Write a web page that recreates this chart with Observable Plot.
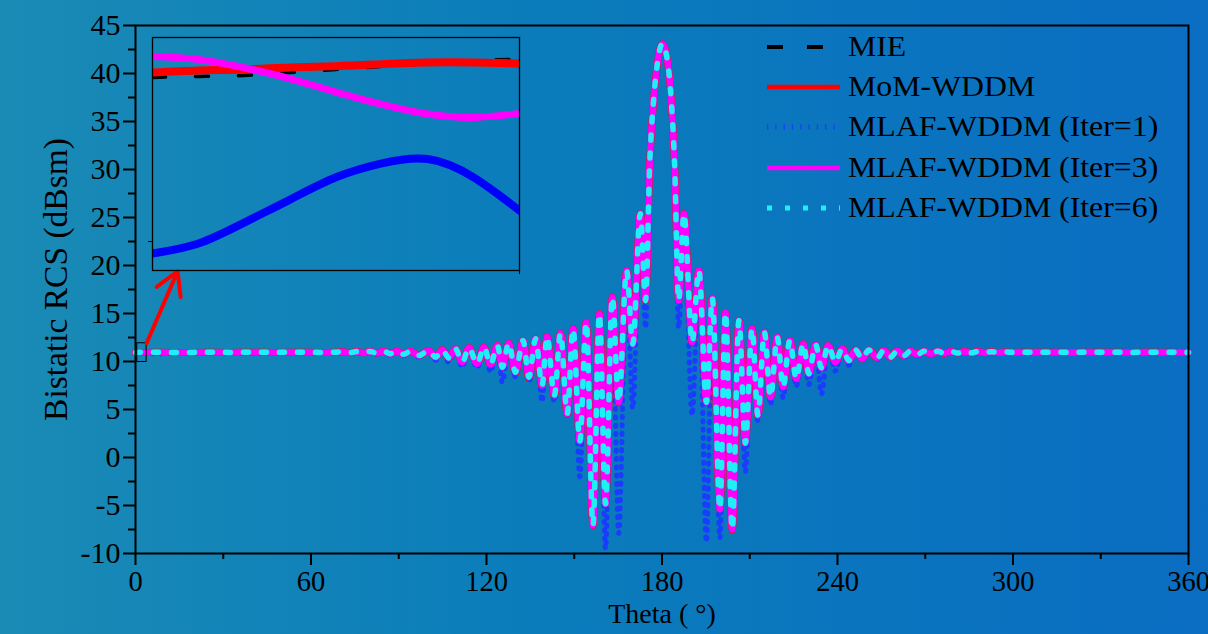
<!DOCTYPE html>
<html>
<head>
<meta charset="utf-8">
<script src="https://cdn.jsdelivr.net/npm/d3@7"></script>
<script src="https://cdn.jsdelivr.net/npm/@observablehq/plot@0.6"></script>
<style>
  html, body { margin: 0; padding: 0; }
  body {
    width: 1208px; height: 634px; overflow: hidden; position: relative;
    background: linear-gradient(to right, #1a8bb5 0%, #0a7cbb 45%, #0a6dc2 100%);
    font-family: "Liberation Serif", "Times New Roman", serif;
  }
  #main { position: absolute; left: 0; top: 0; }
  #inset { position: absolute; left: 146px; top: 31px; }
  #legend { position: absolute; left: 767px; top: 0; }
  .lrow { position: absolute; left: 0; height: 40px; white-space: nowrap; }
  .lrow svg { position: absolute; left: 0; top: 14px; }
  .lrow span { position: absolute; left: 81px; top: 1px; font-size: 30px; color: #000; line-height: 36px;
               transform: scaleX(1.06); transform-origin: 0 50%; }
</style>
</head>
<body>
<div id="main"></div>
<div id="inset"></div>
<div id="legend"></div>
<script>
// ---------------- data ----------------
const seriesNames = ["MIE", "MoM-WDDM", "MLAF-WDDM (Iter=1)", "MLAF-WDDM (Iter=3)", "MLAF-WDDM (Iter=6)"];

const theta = [
  0, 8, 16, 24, 32, 40, 48, 56, 63, 68,
  71, 73.3, 75.6, 77.9, 80.2, 82.5, 84.8, 87.1, 89.4, 91.7,
  94.0, 96.9, 100.3, 102.6, 104.9, 107.1, 109.4, 111.7, 114.0, 116.8,
  119.1, 121.4, 123.7, 125.4, 127.6, 129.9, 132.5, 134.5, 136.8, 139.0,
  140.7, 143.2, 145.3, 147.6, 149.6, 151.9, 154.1, 156.4, 158.6, 160.7,
  163.0, 165.2, 167.9, 170.0, 172.6, 174.4, 175.8, 177.2, 178.4, 180.1,
  182.0, 183.1, 184.3, 185.7, 187.5, 190.3, 192.6, 195.2, 197.2, 199.8,
  201.7, 204.0, 206.3, 208.5, 210.8, 212.8, 215.0, 217.1, 219.4, 221.4,
  223.7, 225.9, 228.3, 230.2, 232.5, 234.5, 236.8, 239.3, 241.6, 243.9,
  246.2, 248.4, 250.7, 253.6, 255.8, 258.1, 260.4, 262.7, 265.0, 267.3,
  269.6, 271.9, 274.2, 276.5, 278.8, 281.1, 283.4, 285.7, 288.0, 290.3,
  292.6, 295.0, 297.3, 300, 310, 320, 330, 340, 350, 360
];

const mie = [
  10.95, 10.96, 10.94, 10.96, 10.95, 10.97, 10.95, 10.96, 10.95, 10.97,
  11.08, 10.94, 11.09, 10.92, 11.11, 10.88, 11.12, 10.84, 11.14, 10.77,
  11.12, 10.63, 11.18, 10.45, 11.25, 10.38, 11.34, 9.93, 11.44, 9.76,
  11.49, 9.69, 11.67, 9.41, 11.91, 8.80, 12.19, 8.30, 12.36, 7.45,
  12.60, 6.40, 12.95, 4.50, 13.41, 1.60, 14.09, -7.10, 14.97, -4.85,
  16.70, 5.70, 19.48, 11.80, 25.40, 16.30, 30.6, 37.5, 41.0, 43.1,
  41.0, 37.5, 30.6, 16.30, 25.40, 11.95, 19.48, 5.70, 16.60, -5.45,
  15.10, -7.55, 14.27, 1.45, 13.40, 4.35, 13.05, 6.25, 12.53, 7.30,
  12.19, 8.18, 11.86, 8.70, 11.79, 9.32, 11.70, 9.92, 11.36, 10.10,
  11.25, 10.27, 11.26, 10.38, 11.22, 10.45, 11.16, 10.60, 11.15, 10.72,
  11.12, 10.80, 11.09, 10.85, 11.07, 10.88, 11.05, 10.90, 11.04, 10.92,
  11.02, 10.93, 11.00, 10.95, 10.96, 10.95, 10.97, 10.95, 10.96, 10.95
];

const mom = [
  10.95, 10.96, 10.94, 10.96, 10.95, 10.97, 10.95, 10.96, 10.95, 10.97,
  11.02, 10.92, 11.03, 10.90, 11.05, 10.87, 11.06, 10.82, 11.08, 10.75,
  11.07, 10.63, 11.15, 10.45, 11.22, 10.38, 11.32, 9.93, 11.42, 9.76,
  11.49, 9.69, 11.67, 9.41, 11.91, 8.75, 12.19, 8.25, 12.36, 7.45,
  12.60, 6.35, 12.95, 4.50, 13.41, 1.55, 14.09, -7.10, 14.97, -4.85,
  16.70, 5.70, 19.48, 11.80, 25.40, 16.30, 30.6, 37.5, 41.0, 43.1,
  41.0, 37.5, 30.6, 16.30, 25.40, 11.95, 19.48, 5.70, 16.60, -5.45,
  15.10, -7.55, 14.27, 1.40, 13.40, 4.35, 13.05, 6.25, 12.53, 7.30,
  12.19, 8.18, 11.84, 8.70, 11.77, 9.32, 11.67, 9.92, 11.32, 10.10,
  11.20, 10.27, 11.20, 10.38, 11.15, 10.45, 11.10, 10.60, 11.10, 10.72,
  11.08, 10.80, 11.06, 10.85, 11.05, 10.88, 11.04, 10.90, 11.03, 10.92,
  11.02, 10.93, 11.00, 10.95, 10.96, 10.95, 10.97, 10.95, 10.96, 10.95
];

const iter1 = [
  10.95, 10.80, 10.90, 10.82, 10.95, 10.88, 10.93, 10.90, 10.95, 10.92,
  11.00, 10.85, 11.02, 10.80, 11.03, 10.75, 11.04, 10.70, 11.06, 10.60,
  11.05, 10.45, 11.12, 10.15, 11.20, 9.90, 11.30, 9.40, 11.40, 9.30,
  11.47, 8.90, 11.65, 7.80, 11.89, 8.40, 12.17, 7.90, 12.34, 5.80,
  12.58, 5.80, 12.93, 4.30, 13.39, -2.00, 14.07, -7.20, 14.95, -9.50,
  16.68, -7.90, 19.46, 5.10, 25.38, 13.50, 30.6, 37.5, 41.0, 43.1,
  41.0, 37.5, 30.6, 13.50, 25.38, 4.40, 19.46, -8.80, 16.58, -8.40,
  15.08, -7.60, 14.25, -1.50, 13.38, 3.80, 13.03, 5.50, 12.51, 6.20,
  12.17, 7.40, 11.82, 7.60, 11.75, 6.60, 11.65, 9.00, 11.30, 9.60,
  11.18, 10.00, 11.18, 10.20, 11.13, 10.30, 11.08, 10.45, 11.08, 10.60,
  11.06, 10.70, 11.04, 10.78, 11.03, 10.82, 11.02, 10.86, 11.01, 10.88,
  11.00, 10.90, 10.99, 10.92, 10.94, 10.90, 10.95, 10.92, 10.94, 10.95
];

const iter3 = [
  10.95, 10.96, 10.94, 10.96, 10.95, 10.97, 10.95, 10.96, 10.95, 10.97,
  11.02, 10.92, 11.03, 10.90, 11.05, 10.87, 11.06, 10.82, 11.08, 10.75,
  11.07, 10.63, 11.15, 10.45, 11.22, 10.38, 11.32, 9.93, 11.42, 9.76,
  11.49, 9.69, 11.67, 9.41, 11.91, 8.89, 12.19, 8.37, 12.36, 7.50,
  12.60, 6.46, 12.95, 4.55, 13.41, 1.70, 14.09, -7.08, 14.97, -4.82,
  16.70, 5.76, 19.48, 11.84, 25.40, 16.35, 30.6, 37.5, 41.0, 43.1,
  41.0, 37.5, 30.6, 16.35, 25.40, 12.00, 19.48, 5.76, 16.60, -5.40,
  15.10, -7.50, 14.27, 1.50, 13.40, 4.40, 13.05, 6.28, 12.53, 7.33,
  12.19, 8.20, 11.84, 8.72, 11.77, 9.34, 11.67, 9.93, 11.32, 10.10,
  11.20, 10.27, 11.20, 10.38, 11.15, 10.45, 11.10, 10.60, 11.10, 10.72,
  11.08, 10.80, 11.06, 10.85, 11.05, 10.88, 11.04, 10.90, 11.03, 10.92,
  11.02, 10.93, 11.00, 10.95, 10.96, 10.95, 10.97, 10.95, 10.96, 10.95
];

const iter6 = [
  10.95, 10.96, 10.94, 10.96, 10.95, 10.97, 10.95, 10.96, 10.95, 10.97,
  11.02, 10.92, 11.03, 10.90, 11.05, 10.87, 11.06, 10.82, 11.08, 10.75,
  11.07, 10.63, 11.15, 10.45, 11.22, 10.38, 11.32, 9.93, 11.42, 9.76,
  11.49, 9.69, 11.67, 9.41, 11.91, 8.89, 12.19, 8.37, 12.36, 7.50,
  12.60, 6.46, 12.95, 4.55, 13.41, 1.70, 14.09, -7.08, 14.97, -4.82,
  16.70, 5.76, 19.48, 11.84, 25.40, 16.35, 30.6, 37.5, 41.0, 43.1,
  41.0, 37.5, 30.6, 16.35, 25.40, 12.00, 19.48, 5.76, 16.60, -5.40,
  15.10, -7.50, 14.27, 1.50, 13.40, 4.40, 13.05, 6.28, 12.53, 7.33,
  12.19, 8.20, 11.84, 8.72, 11.77, 9.34, 11.67, 9.93, 11.32, 10.10,
  11.20, 10.27, 11.20, 10.38, 11.15, 10.45, 11.10, 10.60, 11.10, 10.72,
  11.08, 10.80, 11.06, 10.85, 11.05, 10.88, 11.04, 10.90, 11.03, 10.92,
  11.02, 10.93, 11.00, 10.95, 10.96, 10.95, 10.97, 10.95, 10.96, 10.95
];

// inset (zoom of the region near theta = 0)
const insetTheta = [0, 0.25, 0.5, 0.75, 1.0, 1.25, 1.5, 1.75, 2.0];
const insetMie   = [11.180, 11.183, 11.186, 11.195, 11.204, 11.213, 11.222, 11.231, 11.234];
const insetMom   = [11.195, 11.201, 11.204, 11.210, 11.214, 11.220, 11.225, 11.225, 11.222];
const insetIter1 = [10.651, 10.681, 10.744, 10.813, 10.880, 10.922, 10.935, 10.880, 10.780];
const insetIter3 = [11.243, 11.234, 11.209, 11.176, 11.136, 11.099, 11.070, 11.060, 11.072];

// annotations: zoom box and arrow (data coordinates)
const zoomBox = [{x1: 0.6, x2: 3.8, y1: 9.95, y2: 11.9}];
const zoomArrow = [{x1: 3.8, y1: 11.9, x2: 14.4, y2: 19.4}];

// axis ticks
const xTicks = [0, 60, 120, 180, 240, 300, 360];
const xMinor = [30, 90, 150, 210, 270, 330];
const yTicks = [-10, -5, 0, 5, 10, 15, 20, 25, 30, 35, 40, 45];
const yMinor = [-7.5, -2.5, 2.5, 7.5, 12.5, 17.5, 22.5, 27.5, 32.5, 37.5, 42.5];
const xLabel = "Theta ( °)";
const yLabel = "Bistatic RCS (dBsm)";

// ---------------- styles ----------------
const styles = {
  "MIE": {stroke: "#000000", strokeWidth: 3, strokeDasharray: "12,12"},
  "MoM-WDDM": {stroke: "#ff0000", strokeWidth: 7},
  "MLAF-WDDM (Iter=1)": {stroke: "#1a3cff", strokeWidth: 5, strokeDasharray: "1.3,7"},
  "MLAF-WDDM (Iter=3)": {stroke: "#ff00ff", strokeWidth: 6.5},
  "MLAF-WDDM (Iter=6)": {stroke: "#1ef0f8", strokeWidth: 5.5, strokeDasharray: "5,13"}
};
const legendStyles = {
  "MIE": {stroke: "#000000", strokeWidth: 4, strokeDasharray: "16,24"},
  "MoM-WDDM": {stroke: "#ff0000", strokeWidth: 4.5},
  "MLAF-WDDM (Iter=1)": {stroke: "#1a3cff", strokeWidth: 5, strokeDasharray: "1.3,7"},
  "MLAF-WDDM (Iter=3)": {stroke: "#ff00ff", strokeWidth: 4.5},
  "MLAF-WDDM (Iter=6)": {stroke: "#1ef0f8", strokeWidth: 5, strokeDasharray: "5,13"}
};

const mainValues = [mie, mom, iter1, iter3, iter6];
const rows = (vals) => theta.map((t, i) => ({t, v: vals[i]}));
const insetRows = (vals) => insetTheta.map((t, i) => ({t, v: vals[i]}));

const font = "Liberation Serif";
const fmt = d => String(d);

// ---------------- main chart ----------------
const main = Plot.plot({
  width: 1208, height: 634,
  marginLeft: 135, marginRight: 20, marginTop: 25, marginBottom: 81,
  style: {background: "transparent", fontFamily: font, color: "#000", overflow: "visible"},
  x: {domain: [0, 360]},
  y: {domain: [-10, 45]},
  marks: [
    ...seriesNames.map((name, i) => Plot.line(rows(mainValues[i]), {
      x: "t", y: "v", curve: "monotone-x", ...styles[name]
    })),
    Plot.rect(zoomBox, {x1: "x1", x2: "x2", y1: "y1", y2: "y2", fill: "none", stroke: "#000", strokeWidth: 1}),
    Plot.arrow(zoomArrow, {x1: "x1", y1: "y1", x2: "x2", y2: "y2", stroke: "#ff0000", strokeWidth: 4, headLength: 16}),
    Plot.frame({stroke: "#000", strokeWidth: 2}),
    Plot.axisX(xTicks, {tickSize: 12, tickPadding: 5, fontSize: 28.5, strokeWidth: 2, tickFormat: fmt, label: null}),
    Plot.axisX(xMinor, {tickSize: 6, strokeWidth: 2, tickFormat: () => "", label: null}),
    Plot.axisY(yTicks, {tickSize: 12, tickPadding: 3, fontSize: 30, strokeWidth: 2, tickFormat: fmt, label: null}),
    Plot.axisY(yMinor, {tickSize: 7, strokeWidth: 2, tickFormat: () => "", label: null}),
    Plot.text([xLabel], {text: d => d, frameAnchor: "bottom", textAnchor: "middle", lineAnchor: "middle", dy: 61, fontSize: 28}),
    Plot.text([yLabel], {text: d => d, frameAnchor: "left", textAnchor: "middle", lineAnchor: "middle", rotate: -90, dx: -79, dy: -10, fontSize: 33.5})
  ]
});
document.getElementById("main").appendChild(main);

// ---------------- inset ----------------
const insetSeries = [
  {vals: insetMie, stroke: "#000", strokeWidth: 3.5, strokeDasharray: "13,30"},
  {vals: insetMom, stroke: "#ff0000", strokeWidth: 8},
  {vals: insetIter1, stroke: "#0000ff", strokeWidth: 8},
  {vals: insetIter3, stroke: "#ff00ff", strokeWidth: 7}
];
const inset = Plot.plot({
  width: 379, height: 245, margin: 6,
  style: {background: "transparent", overflow: "visible"},
  x: {domain: [0, 2], axis: null},
  y: {domain: [10.6, 11.3], axis: null},
  marks: [
    ...insetSeries.map(s => Plot.line(insetRows(s.vals), {
      x: "t", y: "v", curve: "natural", clip: true,
      stroke: s.stroke, strokeWidth: s.strokeWidth, strokeDasharray: s.strokeDasharray
    })),
    Plot.frame({stroke: "#000", strokeWidth: 1.3}),
    Plot.axisY([10.687], {tickSize: 4, strokeWidth: 1, tickFormat: () => "", label: null}),
    Plot.axisX([2], {tickSize: 4, strokeWidth: 1, tickFormat: () => "", label: null})
  ]
});
document.getElementById("inset").appendChild(inset);

// ---------------- legend ----------------
const legend = document.getElementById("legend");
const rowCenters0 = 46.5, rowStep = 40.4;
seriesNames.forEach((name, i) => {
  const s = legendStyles[name];
  const row = document.createElement("div");
  row.className = "lrow";
  row.style.top = (rowCenters0 + i * rowStep - 20) + "px";
  row.innerHTML =
    `<svg width="74" height="12"><line x1="0" y1="6" x2="73" y2="6" stroke="${s.stroke}" stroke-width="${s.strokeWidth}" ${s.strokeDasharray ? `stroke-dasharray="${s.strokeDasharray}"` : ""}/></svg>` +
    `<span>${name}</span>`;
  legend.appendChild(row);
});
</script>
</body>
</html>
